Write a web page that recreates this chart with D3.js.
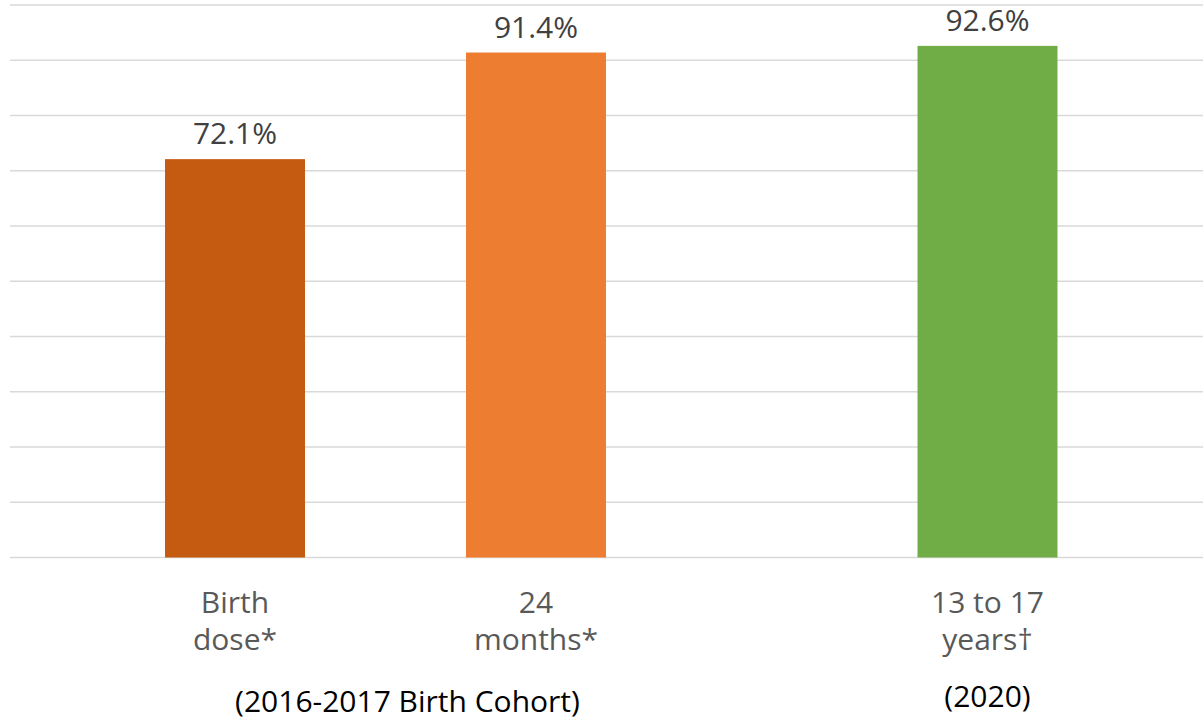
<!DOCTYPE html>
<html>
<head>
<meta charset="utf-8">
<script src="https://cdn.jsdelivr.net/npm/d3@7"></script>
<style>
  html, body { margin: 0; padding: 0; background: #fff; }
  svg { display: block; font-family: "Open Sans", "Noto Sans", sans-serif; }
</style>
</head>
<body>
<svg id="chart" width="1203" height="725"></svg>
<script>
// Hepatitis B vaccination coverage by age group
const categories = ["Birth dose*", "24 months*", "13 to 17 years†"];
const labelLines = [["Birth", "dose*"], ["24", "months*"], ["13 to 17", "years†"]];
const values = [72.1, 91.4, 92.6];
const colors = ["#C55A11", "#ED7D31", "#70AD47"];
const yTicks = [0, 10, 20, 30, 40, 50, 60, 70, 80, 90, 100];
const groups = [
  { label: "(2016-2017 Birth Cohort)", members: ["Birth dose*", "24 months*"], shift: 22, baseline: 712 },
  { label: "(2020)", members: ["13 to 17 years†"], shift: 0, baseline: 707 }
];

// Category slots along the axis, with empty spacers between the groups
const slots = ["s0", categories[0], "s1", categories[1], "s2", "s3", categories[2], "s4"];

const svg = d3.select("#chart");
const W = 1203;

const x = d3.scaleBand().domain(slots).range([9.25, 1213.25]).padding(0);
const y = d3.scaleLinear().domain([0, 100]).range([557.5, 5]);
const barW = x.bandwidth() * 0.93;

// Horizontal gridlines
svg.append("g")
  .selectAll("line")
  .data(yTicks)
  .join("line")
  .attr("x1", 10)
  .attr("x2", W)
  .attr("y1", d => y(d))
  .attr("y2", d => y(d))
  .attr("stroke", "#D9D9D9")
  .attr("stroke-width", 1.5);

// Bars
svg.append("g")
  .selectAll("rect")
  .data(categories)
  .join("rect")
  .attr("x", d => x(d) + (x.bandwidth() - barW) / 2)
  .attr("width", barW)
  .attr("y", (d, i) => y(values[i]))
  .attr("height", (d, i) => y(0) - y(values[i]))
  .attr("fill", (d, i) => colors[i]);

// Value labels above bars
svg.append("g")
  .selectAll("text")
  .data(categories)
  .join("text")
  .attr("x", d => x(d) + x.bandwidth() / 2)
  .attr("y", (d, i) => y(values[i]) - 15)
  .attr("text-anchor", "middle")
  .attr("font-size", 30)
  .attr("fill", "#404040")
  .text((d, i) => values[i].toFixed(1) + "%");

// Category labels (two lines)
const cat = svg.append("g")
  .selectAll("text")
  .data(categories)
  .join("text")
  .attr("text-anchor", "middle")
  .attr("font-size", 30)
  .attr("fill", "#595959");
cat.each(function (d, i) {
  const t = d3.select(this);
  labelLines[i].forEach((line, j) => {
    t.append("tspan")
      .attr("x", x(d) + x.bandwidth() / 2)
      .attr("y", 613 + j * 37)
      .text(line);
  });
});

// Group captions
svg.append("g")
  .selectAll("text")
  .data(groups)
  .join("text")
  .attr("x", g => d3.mean(g.members, m => x(m) + x.bandwidth() / 2) + g.shift)
  .attr("y", g => g.baseline)
  .attr("text-anchor", "middle")
  .attr("font-size", 30)
  .attr("fill", "#000")
  .text(g => g.label);
</script>
</body>
</html>
